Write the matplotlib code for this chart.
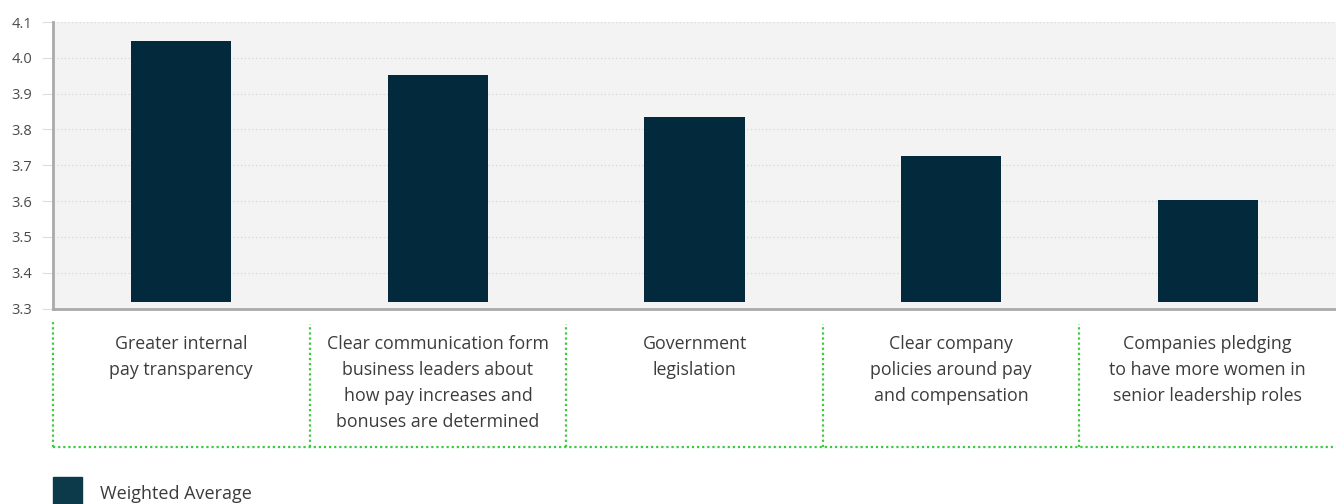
import matplotlib
matplotlib.use('Agg')
import matplotlib.pyplot as plt
from matplotlib.patches import Rectangle

categories = [
    "Greater internal\npay transparency",
    "Clear communication form\nbusiness leaders about\nhow pay increases and\nbonuses are determined",
    "Government\nlegislation",
    "Clear company\npolicies around pay\nand compensation",
    "Companies pledging\nto have more women in\nsenior leadership roles",
]
values = [4.047, 3.952, 3.834, 3.727, 3.604]
yticks = [3.3, 3.4, 3.5, 3.6, 3.7, 3.8, 3.9, 4.0, 4.1]
series_name = "Weighted Average"

BAR_COLOR = "#022a3c"
GREEN = "#3ec93e"
FONT = "Open Sans"

plt.rcParams['font.family'] = [FONT, 'DejaVu Sans']

W, H = 1336, 504
fig = plt.figure(figsize=(W / 100, H / 100), dpi=100)

# main bar axes
ax = fig.add_axes([53 / W, 1 - 308.5 / H, 1 - 53 / W, (308.5 - 22) / H])
ax.set_facecolor("#f3f3f3")
x = range(len(values))
base = 3.317
ax.bar(x, [v - base for v in values], bottom=base, width=0.39, color=BAR_COLOR, zorder=3)
ax.set_xlim(-0.5, len(values) - 0.5)
ax.set_ylim(3.3, 4.1)
ax.set_yticks(yticks)
ax.set_yticklabels([f"{t:.1f}" for t in yticks], fontsize=10.5, color="#4a4a4a")
ax.set_xticks([])
ax.grid(axis='y', color="#d6d6d6", linestyle=(0, (1, 2)), linewidth=0.9, zorder=0)
ax.tick_params(axis='y', length=8, color="#dddddd", pad=7)
for s in ['top', 'right']:
    ax.spines[s].set_visible(False)
for s in ['left', 'bottom']:
    ax.spines[s].set_color("#aaaaaa")
    ax.spines[s].set_linewidth(2)

# category label table underneath
tx = fig.add_axes([53 / W, 1 - 447 / H, 1 - 53 / W, (447 - 318) / H])
tx.set_xlim(-0.5, len(values) - 0.5)
tx.set_ylim(0, 1)
tx.axis('off')
for i in range(len(values)):
    tx.vlines(i - 0.5, 0, 0.97 if i == 0 else 0.95, colors=GREEN,
              linestyles=(0, (1, 1.3)), linewidth=1.6, clip_on=False)
    tx.text(i, 0.87, categories[i], ha='center', va='top', fontsize=12.8,
            color="#3c3c3c", linespacing=1.58)
tx.hlines(0.0, -0.5, len(values) - 0.5, colors=GREEN,
          linestyles=(0, (1, 1.3)), linewidth=1.6, clip_on=False)

# legend
fig.patches.append(Rectangle((53 / W, 0), 29 / W, 27 / H, transform=fig.transFigure,
                             color="#0c3a4a", figure=fig))
fig.text(100 / W, 10 / H, series_name, fontsize=13, color="#3c3c3c", va='center')

plt.savefig("out.png", dpi=100)
plt.close()
